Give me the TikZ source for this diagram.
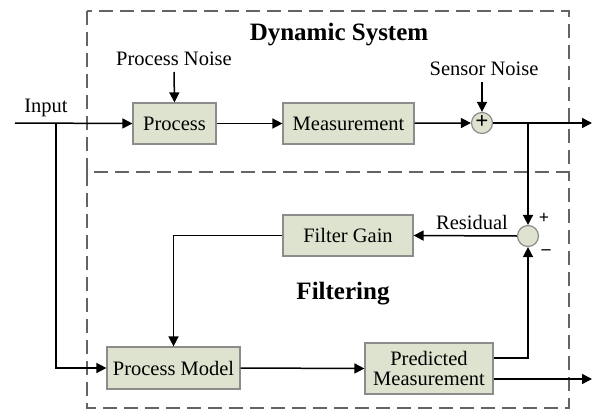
\documentclass[tikz,border=0pt]{standalone}
\usepackage{fontspec}
\setmainfont{Liberation Serif}
\usetikzlibrary{arrows.meta,calc}
\definecolor{boxfill}{RGB}{221,227,206}
\definecolor{boxline}{RGB}{140,140,140}
\definecolor{dashline}{RGB}{100,100,100}
\begin{document}
\begin{tikzpicture}[x=1pt,y=-1pt,
  every node/.style={font=\fontsize{20.5}{23}\selectfont},
  block/.style={draw=boxline,fill=boxfill,line width=1.2pt,inner sep=0pt,align=center},
  junction/.style={circle,draw=boxline,fill=boxfill,line width=1.2pt,minimum size=21pt,inner sep=0pt},
  frame/.style={draw=dashline,line width=1.4pt,dash pattern=on 14pt off 7pt},
  title/.style={font=\fontsize{25}{28}\selectfont\bfseries},
  wire/.style={line width=1.5pt},
  flow/.style={wire,-{Triangle[length=10pt,width=10pt]}}]
\useasboundingbox (0,0) rectangle (593,412);

% system and filter frames
\draw[frame] (87,11) rectangle (569,172);
\draw[frame] (87,172) -- (87,408) -- (569,408) -- (569,172);
\node[title] (dyn) at (339,35) {Dynamic System};
\node[title] (filt) at (343,294) {Filtering};

% blocks
\node[block,minimum width=83pt,minimum height=41pt] (proc) at (174.5,123.5) {Process};
\node[block,minimum width=131pt,minimum height=41pt] (meas) at (348.5,123.5) {Measurement};
\node[block,minimum width=130pt,minimum height=41pt] (gain) at (348,235.5) {Filter Gain};
\node[block,minimum width=133pt,minimum height=42pt] (pmod) at (173.5,368) {Process Model};
\node[block,minimum width=128pt,minimum height=51pt] (pred) at (429,368.5) {Predicted\\[-3pt]Measurement};

% summing junctions
\node[junction] (sum) at (482,123) {};
\node[font=\fontsize{23}{23}\selectfont\bfseries] (plus) at (482,122.5) {+};
\node[junction] (res) at (528,236) {};
\node[font=\fontsize{18}{18}\selectfont\bfseries] (rplus) at (544,218) {+};
\node[font=\fontsize{18}{18}\selectfont\bfseries] (rminus) at (546,252) {\textendash};

% labels
\node (pnoise) at (174,59) {Process Noise};
\node (snoise) at (484,69) {Sensor Noise};
\node (inlab) at (46,108) {Input};
\node (reslab) at (472,222) {Residual};

% free ends and branch points
\coordinate (in) at (15,123);
\coordinate (b1) at (56,123);
\coordinate (b2) at (528,123);
\coordinate (out1) at (592,123);
\coordinate (out2) at (592,379);

% connectors
\draw[flow] (in) -- (proc.west);
\draw[flow] (b1) |- (pmod.west);
\draw[flow] (proc) -- (meas);
\draw[flow] (meas) -- (sum.west);
\draw[flow] (174,72) -- (proc.north);
\draw[flow] (482,82) -- (sum.north);
\draw[flow] (sum.east) -- (out1);
\draw[flow] (b2) -- (res.north);
\draw[flow] (res.west) -- (gain.east);
\draw[flow] (gain.west) -| (pmod.north);
\draw[flow] (pmod.east) -- (pred.west);
\draw[flow] ($(pred.east)+(0,-10.5)$) -| (res.south);
\draw[flow] ($(pred.east)+(0,10.5)$) -- (out2);
\end{tikzpicture}
\end{document}
